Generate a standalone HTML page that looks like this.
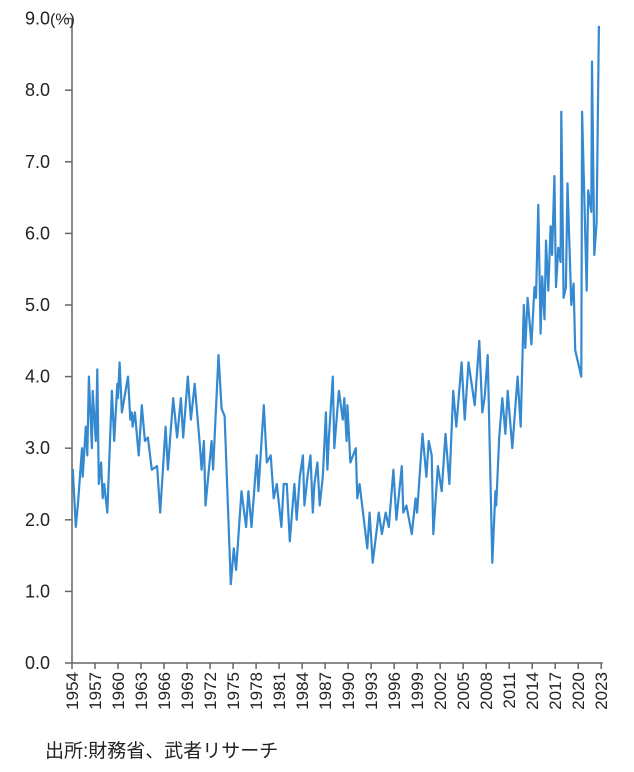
<!DOCTYPE html>
<html><head><meta charset="utf-8"><style>
html,body{margin:0;padding:0;background:#fff;}
svg text{font-family:"Liberation Sans","Noto Sans CJK JP",sans-serif;fill:#222;}
</style></head><body>
<svg id="chart" width="634" height="767" xmlns="http://www.w3.org/2000/svg">
<g id="yaxis"></g>
<g id="xaxis"></g>
<path id="line" fill="none" stroke="#3589d0" stroke-width="2.2" stroke-linejoin="round"/>
<text x="45" y="757" font-size="19">出所:財務省、武者リサーチ</text>
</svg>
<script>
const years=[1954.0,1954.1,1954.5,1954.8,1955.3,1955.4,1955.8,1956.0,1956.2,1956.6,1956.7,1957.1,1957.3,1957.5,1957.8,1958.0,1958.2,1958.6,1959.2,1959.5,1959.9,1960.0,1960.2,1960.5,1961.3,1961.6,1961.8,1961.9,1962.2,1962.7,1963.1,1963.5,1963.9,1964.4,1965.1,1965.5,1966.2,1966.5,1966.8,1967.2,1967.7,1968.2,1968.5,1969.1,1969.5,1970.0,1970.7,1970.9,1971.2,1971.4,1972.2,1972.4,1973.1,1973.5,1973.9,1974.7,1975.1,1975.4,1976.1,1976.7,1977.0,1977.4,1978.1,1978.3,1979.0,1979.4,1979.9,1980.3,1980.7,1981.3,1981.6,1982.0,1982.4,1982.8,1983.0,1983.3,1983.7,1984.1,1984.3,1984.7,1985.1,1985.4,1985.6,1986.0,1986.3,1986.7,1987.1,1987.3,1987.5,1988.0,1988.2,1988.8,1989.3,1989.5,1989.8,1989.9,1990.3,1991.0,1991.2,1991.5,1992.5,1992.8,1993.2,1994.0,1994.4,1994.9,1995.3,1995.9,1996.3,1997.0,1997.2,1997.6,1998.3,1998.8,1999.0,1999.7,2000.2,2000.5,2000.9,2001.1,2001.7,2002.2,2002.7,2003.2,2003.7,2004.1,2004.8,2005.2,2005.7,2006.5,2007.1,2007.5,2007.8,2008.2,2008.8,2009.2,2009.3,2009.7,2010.1,2010.5,2010.8,2011.4,2012.1,2012.5,2012.9,2013.1,2013.4,2013.9,2014.3,2014.5,2014.8,2015.1,2015.3,2015.6,2015.8,2016.1,2016.4,2016.6,2016.9,2017.1,2017.4,2017.7,2017.8,2018.1,2018.4,2018.6,2019.1,2019.4,2019.6,2020.4,2020.5,2021.1,2021.3,2021.7,2021.8,2022.1,2022.4,2022.7,2023.1];
const values=[2.7,2.7,1.9,2.25,3.0,2.6,3.3,2.9,4.0,3.0,3.8,3.1,4.1,2.5,2.8,2.3,2.5,2.1,3.8,3.1,3.9,3.7,4.2,3.5,4.0,3.4,3.5,3.3,3.5,2.9,3.6,3.1,3.15,2.7,2.75,2.1,3.3,2.7,3.15,3.7,3.15,3.7,3.15,4.0,3.4,3.9,3.0,2.7,3.1,2.2,3.1,2.7,4.3,3.55,3.45,1.1,1.6,1.3,2.4,1.9,2.4,1.9,2.9,2.4,3.6,2.8,2.9,2.3,2.5,1.9,2.5,2.5,1.7,2.25,2.5,2.0,2.6,2.9,2.2,2.6,2.9,2.1,2.5,2.8,2.2,2.6,3.5,2.7,3.15,4.0,3.0,3.8,3.4,3.7,3.1,3.6,2.8,3.0,2.3,2.5,1.6,2.1,1.4,2.1,1.8,2.1,1.9,2.7,2.0,2.75,2.1,2.2,1.8,2.3,2.1,3.2,2.6,3.1,2.9,1.8,2.75,2.4,3.2,2.5,3.8,3.3,4.2,3.4,4.2,3.6,4.5,3.5,3.7,4.3,1.4,2.4,2.2,3.15,3.7,3.2,3.8,3.0,4.0,3.3,5.0,4.4,5.1,4.45,5.25,5.1,6.4,4.6,5.4,4.8,5.9,5.2,6.1,5.7,6.8,5.25,5.8,5.6,7.7,5.1,5.25,6.7,5.0,5.3,4.37,4.0,7.7,5.2,6.6,6.3,8.4,5.7,6.15,8.9];
const yTicks=[0,1,2,3,4,5,6,7,8,9];
const yTickLabels=["0.0","1.0","2.0","3.0","4.0","5.0","6.0","7.0","8.0","9.0"];
const xTickYears=[1954,1957,1960,1963,1966,1969,1972,1975,1978,1981,1984,1987,1990,1993,1996,1999,2002,2005,2008,2011,2014,2017,2020,2023];
const X0=72,Y0=663,PXY=7.67,PXV=71.6;
const xs=y=>X0+(y-1954)*PXY, ys=v=>Y0-v*PXV;
const NS="http://www.w3.org/2000/svg";
function mk(t,a,p){const e=document.createElementNS(NS,t);for(const k in a)e.setAttribute(k,a[k]);p.appendChild(e);return e;}
const ya=document.getElementById('yaxis'),xa=document.getElementById('xaxis');
const axl=mk('line',{x1:X0,y1:ys(9),x2:X0,y2:Y0,stroke:'#666','stroke-width':1.5},ya);


yTicks.forEach((v,i)=>{
 const t=mk('line',{x1:X0-7,x2:X0,y1:ys(v),y2:ys(v),stroke:'#666','stroke-width':1.5},ya);
 
 
 const l=mk('text',{x:X0-22,y:ys(v)+6,'text-anchor':'end','font-size':18},ya);
 l.textContent=yTickLabels[i];
 
 
});
const u=mk('text',{x:X0-22,y:ys(9)+6,'font-size':16},ya);
u.textContent='(%)';


const bx=mk('line',{x1:X0,x2:xs(2023.2),y1:Y0,y2:Y0,stroke:'#666','stroke-width':1.5},xa);


xTickYears.forEach(yr=>{
 const x=xs(yr);
 const t=mk('line',{x1:x,x2:x,y1:Y0,y2:Y0+6,stroke:'#666','stroke-width':1.5},xa);
 
 
 const l=mk('text',{x:0,y:0,'text-anchor':'end','font-size':17,transform:`translate(${x+6},${Y0+9}) rotate(-90)`},xa);
 l.textContent=yr;
 
 
});
document.getElementById('line').setAttribute('d',years.map((y,i)=>(i?'L':'M')+xs(y).toFixed(1)+','+ys(values[i]).toFixed(1)).join(''));
</script>
</body></html>
